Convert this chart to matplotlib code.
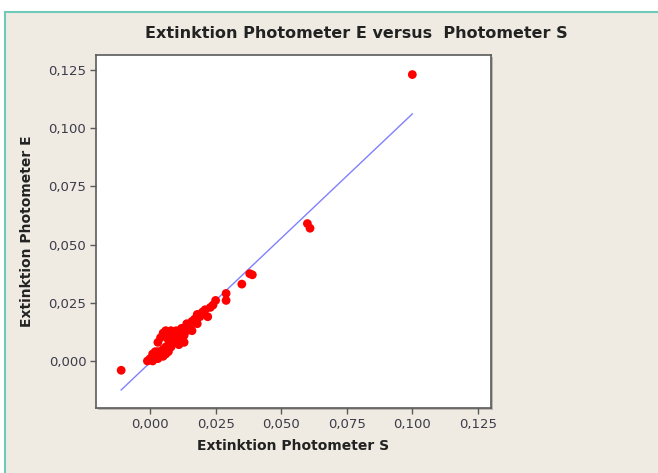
import matplotlib
matplotlib.use("Agg")
import matplotlib.pyplot as plt
from matplotlib.lines import Line2D
from matplotlib.patches import Rectangle
import numpy as np

# ---- data ----
photometer_s = [-0.011, 0.100, 0.060, 0.061, 0.038, 0.039, 0.035, 0.029, 0.029,
                0.025, 0.024, 0.023, 0.021, 0.020, 0.019, 0.018, 0.017, 0.016,
                0.015, 0.014, 0.014, 0.013, 0.012, 0.012, 0.011, 0.010, 0.010,
                0.009, 0.009, 0.008, 0.008, 0.007, 0.007, 0.006, 0.006, 0.005,
                0.005, 0.004, 0.003, 0.003, 0.002, 0.001, 0.001, 0.000, -0.001,
                0.016, 0.018, 0.022, 0.004, 0.005, 0.006, 0.008, 0.003, 0.011,
                0.013, 0.002, 0.007, 0.0105, 0.0125, 0.0155]
photometer_e = [-0.004, 0.123, 0.059, 0.057, 0.0375, 0.037, 0.033, 0.029, 0.026,
                0.026, 0.024, 0.023, 0.022, 0.021, 0.019, 0.020, 0.018, 0.017,
                0.015, 0.016, 0.013, 0.011, 0.014, 0.009, 0.012, 0.013, 0.010,
                0.012, 0.008, 0.011, 0.006, 0.009, 0.004, 0.006, 0.003, 0.005,
                0.002, 0.003, 0.004, 0.001, 0.002, 0.003, 0.000, 0.001, 0.000,
                0.013, 0.016, 0.019, 0.010, 0.012, 0.013, 0.013, 0.008, 0.007,
                0.008, 0.004, 0.011, 0.0085, 0.0105, 0.0135]

fit_intercept = -0.0007
fit_slope = 1.068
fit_x_range = [-0.011, 0.100]

x_ticks = [0.0, 0.025, 0.05, 0.075, 0.1, 0.125]
x_ticklabels = ["0,000", "0,025", "0,050", "0,075", "0,100", "0,125"]
y_ticks = [0.0, 0.025, 0.05, 0.075, 0.1, 0.125]
y_ticklabels = ["0,000", "0,025", "0,050", "0,075", "0,100", "0,125"]

title = "Extinktion Photometer E versus  Photometer S"
xlabel = "Extinktion Photometer S"
ylabel = "Extinktion Photometer E"

# ---- figure ----
W, H = 658, 473
fig = plt.figure(figsize=(W / 100, H / 100), dpi=100)
fig.patch.set_facecolor("white")

bg = "#efebe2"
teal = "#6fcab9"
fig.patches.append(Rectangle((5 / W, 0), 1 - 5 / W, 1 - 12 / H, transform=fig.transFigure,
                             facecolor=bg, edgecolor="none", zorder=-3))
fig.lines.append(Line2D([5 / W, 5 / W], [0, 1 - 12 / H], transform=fig.transFigure,
                        color=teal, lw=1.5, zorder=-2))
fig.lines.append(Line2D([5 / W, 1], [1 - 12 / H, 1 - 12 / H], transform=fig.transFigure,
                        color=teal, lw=1.5, zorder=-2))

ax_l, ax_r, ax_t, ax_b = 96, 491, 55, 408
# shadow of the frame
fig.patches.append(Rectangle(((ax_l + 2) / W, 1 - (ax_b + 2) / H), (ax_r - ax_l) / W,
                             (ax_b - ax_t) / H, transform=fig.transFigure,
                             facecolor="#bdb9b1", edgecolor="none", zorder=-1))

ax = fig.add_axes([ax_l / W, 1 - ax_b / H, (ax_r - ax_l) / W, (ax_b - ax_t) / H])
ax.set_zorder(1)
ax.set_facecolor("white")

ax.scatter(photometer_s, photometer_e, s=40, c="#ff0000", edgecolors="none", zorder=3)
fx = np.array(fit_x_range)
ax.plot(fx, fit_intercept + fit_slope * fx, color="#8080ff", lw=1.0, zorder=2)

ax.set_xlim(-0.0206, 0.1300)
ax.set_ylim(-0.0202, 0.1314)
ax.set_xticks(x_ticks)
ax.set_xticklabels(x_ticklabels)
ax.set_yticks(y_ticks)
ax.set_yticklabels(y_ticklabels)

for sp in ax.spines.values():
    sp.set_color("#5a5a5a")
    sp.set_linewidth(1.2)

ax.tick_params(direction="out", length=4, width=1, color="#5a5a5a",
               labelsize=9.5, labelcolor="#3b3b4a", pad=3)

ax.set_xlabel(xlabel, fontsize=10, fontweight="bold", color="#222222", labelpad=6)
ax.set_ylabel(ylabel, fontsize=10, fontweight="bold", color="#222222", labelpad=10)
fig.text(356 / W, 1 - 33 / H, title, ha="center", va="center", fontsize=11.5,
         fontweight="bold", color="#222222")

fig.savefig("out.png", dpi=100, facecolor=fig.get_facecolor())
